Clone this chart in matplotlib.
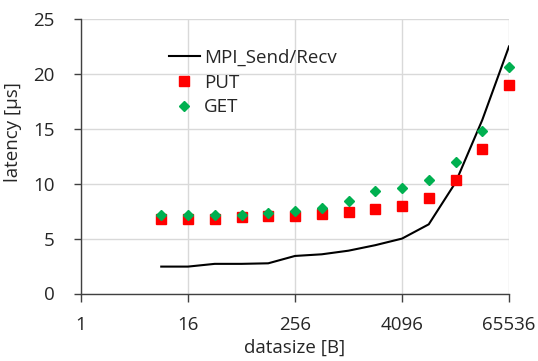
import numpy as np
import matplotlib
matplotlib.use("Agg")
from matplotlib import pyplot as plt

# data
datasize = [8, 16, 32, 64, 128, 256, 512, 1024, 2048, 4096, 8192, 16384, 32768, 65536]
mpi_send_recv = [2.45, 2.45, 2.7, 2.7, 2.75, 3.42, 3.57, 3.9, 4.4, 5.0, 6.3, 10.1, 15.8, 22.5]
put = [6.77, 6.83, 6.77, 7.0, 7.02, 7.07, 7.2, 7.4, 7.74, 7.98, 8.7, 10.3, 13.2, 19.0]
get = [7.16, 7.19, 7.16, 7.19, 7.34, 7.5, 7.8, 8.44, 9.3, 9.65, 10.35, 11.97, 14.76, 20.6]

x_ticks = [1, 16, 256, 4096, 65536]
y_ticks = [0, 5, 10, 15, 20, 25]

text_color = "#262626"
plt.rcParams["font.family"] = ["Open Sans", "DejaVu Sans"]
plt.rcParams["font.size"] = 13.5

fig = plt.figure(figsize=(5.38, 3.61), dpi=100)
ax = fig.add_axes([81 / 538, 1 - 293.5 / 361, 428 / 538, 274.5 / 361])

ax.plot(datasize, mpi_send_recv, color="black", lw=1.5, label="MPI_Send/Recv", zorder=3)
ax.plot(datasize, put, ls="none", marker="s", ms=7.8, color="#ff0000", label="PUT",
        zorder=4, clip_on=False)
ax.plot(datasize, get, ls="none", marker="D", ms=4.8, color="#00b050", label="GET",
        zorder=5, clip_on=False)

ax.set_xscale("log", base=2)
ax.set_xlim(1, 65536)
ax.set_ylim(0, 25)
ax.set_xticks(x_ticks)
ax.set_xticklabels([str(v) for v in x_ticks])
ax.set_yticks(y_ticks)
ax.minorticks_off()

ax.grid(True, color="#d9d9d9", lw=1)
ax.set_axisbelow(True)
for side in ["top", "right"]:
    ax.spines[side].set_visible(False)
for side in ["left", "bottom"]:
    ax.spines[side].set_color("#404040")
    ax.spines[side].set_linewidth(1)

ax.tick_params(axis="y", direction="out", length=5, width=1, color="#404040", pad=14, labelcolor=text_color)
ax.tick_params(axis="x", direction="out", length=6, width=1, color="#404040", pad=10, labelcolor=text_color)

ax.set_ylabel("latency [µs]", color=text_color, va="center")
ax.yaxis.set_label_coords((13 - 81) / 428, (293.5 - 132) / 274.5)
ax.set_xlabel("datasize [B]", color=text_color, va="center")
ax.xaxis.set_label_coords(0.5, (293.5 - 348) / 274.5)

leg = ax.legend(loc="upper left", bbox_to_anchor=((169 - 81) / 428, (293.5 - 49) / 274.5),
                frameon=False, handlelength=1.65, handletextpad=0.2, labelspacing=0.36,
                borderaxespad=0, borderpad=0)
for t in leg.get_texts():
    t.set_color(text_color)

fig.savefig("out.png", dpi=100)
